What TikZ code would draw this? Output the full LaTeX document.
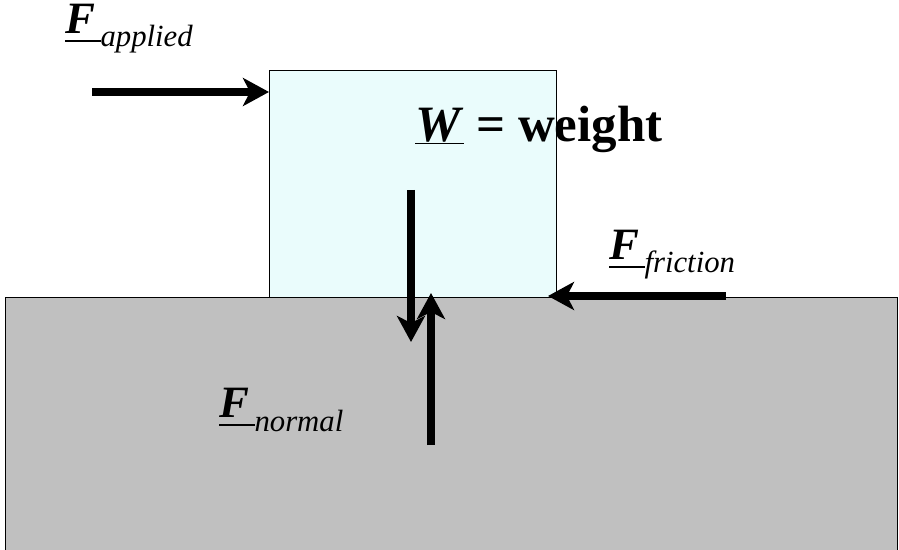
\documentclass[tikz,border=0pt]{standalone}
\usepackage{fontspec}
\setmainfont{Liberation Serif}
\usetikzlibrary{arrows.meta}
\definecolor{fbGround}{HTML}{C0C0C0}
\definecolor{fbBlock}{HTML}{EAFCFC}
\definecolor{fbInk}{HTML}{000000}
\newcommand{\ulbox}[2]{\setbox0\hbox{#2}\rlap{\rule[#1]{\wd0}{1.1pt}}\box0\relax}
\newcommand{\forcelbl}[1]{{\fontsize{25.5}{25.5}\selectfont\bfseries\itshape\ulbox{-4.4pt}{F\kern3pt}}\raisebox{-7.4pt}{\fontsize{17.5}{17.5}\selectfont\itshape #1}}

\begin{document}
\begin{tikzpicture}[x=0.02cm,y=-0.02cm,
		force/.style={fbInk,line width=0.16cm,-{Stealth[length=0.52cm,width=0.56cm,inset=0.14cm]}},
		lbl/.style={inner sep=0pt,anchor=base west}]
		\useasboundingbox (0,0) rectangle (899,550);
		% ground and block
		\fill[fbGround] (5,297) rectangle (897,552);
		\draw[fbInk,line width=0.5pt] (5,552)--(5,297)--(897,297)--(897,552);
		\node[draw=fbInk,fill=fbBlock,line width=0.6pt,anchor=north west,inner sep=0pt,
			minimum width=5.74cm,minimum height=4.54cm] (block) at (269,70) {};
		% labels
		\node[lbl] (fapp) at (65,34) {\forcelbl{applied}};
		\node[lbl] (wlbl) at (415,142) {\fontsize{29}{29}\selectfont\bfseries\ulbox{-1.4pt}{\textit{W}} = weight};
		\node[lbl] (ffric) at (609,260) {\forcelbl{friction}};
		\node[lbl] (fnorm) at (219,418) {\forcelbl{normal}};
		% forces
		\coordinate (appTail) at (92,92);
		\coordinate (wTail) at (411,190);
		\coordinate (wTip) at (411,342);
		\coordinate (nTail) at (431,445);
		\coordinate (nTip) at (431,293);
		\coordinate (fTail) at (726,296);
		\coordinate (fTip) at (548,296);
		\draw[force] (appTail) -- (appTail -| block.west);
		\draw[force] (wTail) -- (wTip);
		\draw[force] (nTail) -- (nTip);
		\draw[force] (fTail) -- (fTip);
	\end{tikzpicture}
\end{document}
